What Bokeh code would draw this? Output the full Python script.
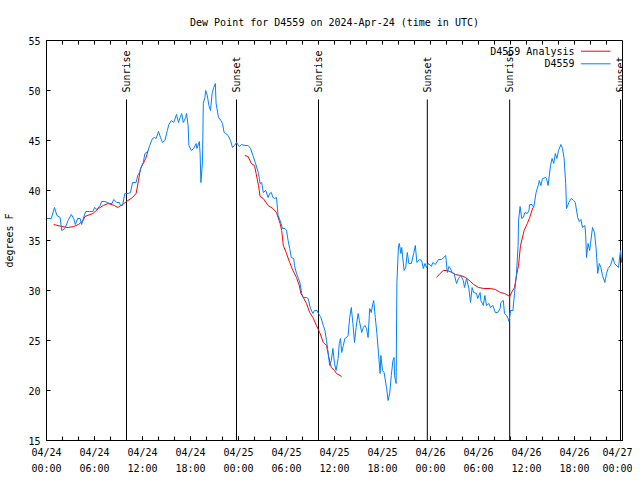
import math
from bokeh.plotting import figure
from bokeh.models import FixedTicker, Title
from bokeh.core.properties import value
from bokeh.embed import file_html
from bokeh.resources import INLINE

FONT = "DejaVu Sans Mono"

# ---- data (hours since 2024-04-24 00:00 UTC, dew point degF) ----
obs_hours = [0.0, 0.2, 0.6, 1.0, 1.3, 1.7, 1.9, 2.3, 2.7, 3.1, 3.4, 3.6, 3.9, 4.2, 4.4, 4.6, 4.9, 5.4, 5.8, 6.0,
             6.3, 6.7, 6.9, 7.3, 7.6, 7.9, 8.2, 8.4, 8.8, 9.1, 9.25, 9.5, 9.8, 10.2, 10.5, 10.75, 11.2, 11.4, 11.7, 11.9,
             12.1, 12.3, 12.5, 12.7, 12.9, 13.25, 13.5, 13.7, 14.0, 14.25, 14.5, 14.8, 15.1, 15.3, 15.6, 15.9, 16.25, 16.5, 16.7, 16.9,
             17.1, 17.4, 17.5, 17.7, 17.8, 18.1, 18.4, 18.7, 18.8, 19.1, 19.2, 19.3, 19.5, 19.6, 19.8, 19.9, 20.1, 20.3, 20.5, 20.7,
             20.9, 21.1, 21.2, 21.5, 21.8, 22.0, 22.2, 22.4, 22.7, 23.0, 23.25, 23.5, 23.75, 24.1, 24.4, 24.8, 25.2, 25.5, 25.8, 26.1,
             26.5, 26.7, 26.9, 27.1, 27.4, 27.7, 27.9, 28.1, 28.3, 28.5, 28.75, 28.95, 29.2, 29.5, 29.8, 30.0, 30.2, 30.4, 30.6, 30.9,
             31.0, 31.25, 31.5, 31.7, 31.9, 32.1, 32.5, 32.7, 33.0, 33.3, 33.5, 33.8, 34.0, 34.3, 34.6, 34.8, 35.0, 35.2, 35.4, 35.6,
             35.8, 36.0, 36.2, 36.45, 36.6, 36.75, 36.9, 37.1, 37.3, 37.5, 37.7, 37.9, 38.1, 38.3, 38.5, 38.7, 38.95, 39.1, 39.4, 39.6,
             39.8, 40.0, 40.2, 40.4, 40.6, 40.8, 40.9, 41.1, 41.3, 41.5, 41.7, 41.8, 42.0, 42.2, 42.5, 42.7, 42.9, 43.1, 43.3, 43.45,
             43.5, 43.7, 43.8, 44.0, 44.1, 44.3, 44.4, 44.7, 44.9, 45.1, 45.3, 45.6, 45.9, 46.1, 46.3, 46.6, 46.9, 47.1, 47.3, 47.5,
             47.75, 48.1, 48.3, 48.6, 49.0, 49.4, 49.9, 50.1, 50.3, 50.5, 50.7, 50.95, 51.25, 51.5, 51.8, 52.1, 52.25, 52.5, 52.8, 53.0,
             53.2, 53.4, 53.75, 53.9, 54.2, 54.3, 54.6, 54.8, 55.0, 55.3, 55.5, 55.8, 56.1, 56.4, 56.7, 56.8, 57.1, 57.25, 57.5, 57.7,
             57.8, 58.0, 58.3, 58.5, 58.75, 58.95, 59.0, 59.2, 59.4, 59.6, 59.8, 60.1, 60.3, 60.4, 60.7, 60.9, 61.2, 61.5, 61.6, 61.8,
             62.0, 62.4, 62.5, 62.7, 63.0, 63.2, 63.4, 63.6, 63.8, 64.0, 64.3, 64.5, 64.7, 64.9, 65.0, 65.3, 65.6, 65.9, 66.1, 66.4,
             66.6, 66.8, 67.0, 67.3, 67.4, 67.5, 67.7, 67.9, 68.0, 68.25, 68.5, 68.7, 68.9, 69.1, 69.3, 69.5, 69.8, 70.0, 70.2, 70.5,
             70.8, 71.0, 71.5, 71.75, 71.9, 72.0]
obs_dewpt = [37.2, 37.2, 37.2, 38.3, 37.5, 37.3, 36.0, 36.2, 37.0, 37.6, 37.2, 36.6, 37.2, 37.2, 36.6, 37.2, 37.9, 37.9, 37.9, 38.3,
             38.1, 38.5, 38.9, 38.9, 38.8, 38.7, 38.7, 39.1, 38.8, 38.8, 38.5, 38.5, 39.7, 39.7, 39.8, 40.8, 40.8, 41.5, 41.9, 42.5,
             42.8, 43.7, 43.8, 44.0, 44.5, 45.2, 45.3, 45.2, 45.9, 45.3, 44.8, 45.0, 46.0, 46.6, 47.0, 46.8, 47.6, 46.8, 47.3, 47.7,
             46.8, 47.3, 47.7, 46.5, 44.5, 44.0, 44.2, 44.7, 44.2, 44.9, 43.7, 40.8, 42.9, 48.7, 49.3, 50.0, 49.5, 48.5, 48.0, 49.7,
             50.3, 50.7, 48.7, 47.3, 47.0, 46.7, 45.8, 45.7, 45.5, 45.0, 44.3, 44.5, 44.8, 44.4, 44.6, 44.5, 44.5, 44.2, 43.5, 42.8,
             41.7, 40.7, 40.8, 39.8, 40.0, 39.3, 39.7, 39.8, 39.3, 39.2, 39.3, 37.5, 37.0, 36.2, 36.2, 36.0, 35.0, 34.2, 33.3, 33.2,
             32.5, 31.7, 31.2, 30.7, 29.7, 29.3, 29.3, 29.2, 28.2, 27.7, 28.0, 28.0, 27.7, 27.3, 26.5, 26.0, 25.0, 23.8, 22.5, 23.0,
             24.2, 22.7, 22.0, 23.2, 24.7, 25.2, 23.8, 24.5, 25.2, 25.3, 25.5, 27.3, 28.3, 26.7, 24.8, 26.3, 27.7, 27.0, 25.8, 26.3,
             26.5, 26.2, 25.3, 28.2, 27.8, 28.7, 29.0, 27.3, 25.7, 23.7, 21.7, 23.5, 22.0, 21.8, 20.3, 19.0, 19.7, 21.5, 23.0, 23.3,
             21.5, 20.7, 30.8, 34.5, 34.7, 33.7, 34.3, 32.0, 32.3, 33.8, 32.7, 32.7, 33.7, 34.5, 32.8, 33.1, 33.0, 32.2, 32.7, 32.3,
             32.7, 32.4, 32.8, 32.6, 33.1, 33.1, 33.5, 31.8, 32.4, 32.2, 31.8, 31.7, 30.7, 31.2, 31.5, 31.0, 30.3, 31.2, 30.2, 28.8,
             30.3, 29.8, 29.7, 29.2, 29.8, 29.0, 28.5, 29.5, 28.5, 28.7, 28.3, 28.5, 27.8, 27.8, 28.2, 28.8, 29.0, 27.7, 27.5, 27.2,
             26.9, 28.0, 28.0, 29.7, 31.7, 34.5, 37.0, 38.4, 37.2, 37.3, 37.8, 37.7, 38.0, 38.6, 38.6, 38.3, 39.8, 40.6, 41.0, 40.5,
             41.2, 41.3, 41.2, 40.5, 42.5, 43.2, 42.7, 43.7, 43.2, 44.0, 44.6, 44.2, 43.2, 40.7, 38.2, 38.8, 39.2, 39.0, 38.8, 37.3,
             36.9, 37.1, 36.3, 36.5, 35.5, 33.3, 34.7, 34.0, 34.7, 36.3, 35.8, 34.2, 31.7, 32.7, 32.3, 31.5, 30.8, 31.7, 32.2, 32.5,
             33.3, 32.7, 32.3, 34.0, 32.8, 32.7]

ana_hours = [0.9, 1.9, 2.7, 3.4, 4.0, 4.6, 4.8, 5.8, 6.5, 7.1, 7.7, 8.5, 8.9, 9.5, 10.0, 10.75, 11.2, 11.5, 11.75, 12.1,
             12.4, 12.7, float("nan"),
             24.8, 25.2, 25.6, 26.0, 26.2, 26.5, 26.7, 27.1, 27.7, 28.3, 28.75, 29.2, 29.4, 29.6, 30.0, 30.4, 30.8, 31.25, 31.6, 31.8,
             32.1, 32.5, 32.9, 33.3, 33.75, 34.2, 34.6, 35.0, 35.3, 35.6, 36.0, 36.25, 36.9, float("nan"),
             48.75, 49.2, 49.6, 50.1, 50.7, 51.1, 51.75, 52.4, 53.0, 53.4, 54.0, 54.7, 55.5, 56.1, 56.75, 57.25, 57.7, 57.9, 58.2, 58.5,
             58.75, 59.0, 59.25, 59.7, 60.1, 60.4, 60.8]
ana_dewpt = [36.6, 36.4, 36.3, 36.4, 36.6, 37.0, 37.4, 37.7, 38.2, 38.5, 38.7, 38.5, 38.3, 38.6, 38.9, 39.3, 39.7, 41.0, 42.2, 42.7,
             43.2, 44.0, float("nan"),
             43.5, 43.4, 42.7, 42.5, 41.7, 40.5, 39.4, 39.2, 38.5, 38.2, 37.8, 36.7, 36.0, 34.5, 33.7, 32.8, 32.0, 31.3, 30.5, 29.7,
             29.3, 28.7, 27.8, 27.3, 26.5, 25.7, 24.8, 24.5, 23.3, 22.3, 22.0, 21.7, 21.4, float("nan"),
             31.3, 31.7, 32.0, 32.0, 31.8, 31.6, 31.5, 31.3, 30.9, 30.6, 30.3, 30.2, 30.2, 30.1, 29.8, 29.7, 29.5, 29.4, 29.9, 30.3,
             31.5, 32.5, 34.5, 36.0, 36.7, 37.3, 38.3]

sun_hours = [10.0, 23.75, 34.0, 47.6, 57.9, 71.75]
sun_names = ["Sunrise", "Sunset", "Sunrise", "Sunset", "Sunrise", "Sunset"]

x_tick_hours = [0, 6, 12, 18, 24, 30, 36, 42, 48, 54, 60, 66, 72]
x_tick_labels = ["04/24\n00:00", "04/24\n06:00", "04/24\n12:00", "04/24\n18:00",
                 "04/25\n00:00", "04/25\n06:00", "04/25\n12:00", "04/25\n18:00",
                 "04/26\n00:00", "04/26\n06:00", "04/26\n12:00", "04/26\n18:00", "04/27\n00:00"]
x_minor_hours = list(range(0, 73, 2))
y_ticks = [15, 20, 25, 30, 35, 40, 45, 50, 55]

legend_names = ["D4559 Analysis", "D4559"]
legend_colors = ["#ff0000", "#0080ff"]

X0, X1, Y0, Y1 = 0, 72, 15, 55

# ---- figure ----
p = figure(width=632, height=477, x_range=(X0, X1), y_range=(Y0, Y1),
           output_backend="svg", toolbar_location=None,
           min_border_left=46, min_border_right=10, min_border_top=40, min_border_bottom=10)
p.title = Title(text="Dew Point for D4559 on 2024-Apr-24 (time in UTC)", align="center",
                text_font=FONT, text_font_size="10px", text_font_style="normal",
                text_color="black", standoff=25)
p.xgrid.visible = False
p.ygrid.visible = False
p.outline_line_color = "black"
p.outline_line_width = 1
p.background_fill_color = "white"
p.border_fill_color = "white"

for ax in (p.xaxis[0], p.yaxis[0]):
    ax.axis_line_color = "black"
    ax.major_tick_in = 4
    ax.major_tick_out = 0
    ax.minor_tick_in = 4
    ax.minor_tick_out = 0
    ax.major_tick_line_color = "black"
    ax.minor_tick_line_color = "black"
    ax.major_label_text_font = FONT
    ax.major_label_text_font_size = "10px"
    ax.major_label_text_color = "black"
    ax.major_label_standoff = 6

p.xaxis.ticker = FixedTicker(ticks=x_tick_hours, minor_ticks=x_minor_hours)
p.xaxis.major_label_overrides = {h: lab for h, lab in zip(x_tick_hours, x_tick_labels)}
p.xaxis.major_label_text_line_height = 1.5

p.yaxis.ticker = FixedTicker(ticks=y_ticks, minor_ticks=[])
p.yaxis.axis_label = "degrees F"
p.yaxis.axis_label_text_font = FONT
p.yaxis.axis_label_text_font_size = "10px"
p.yaxis.axis_label_text_font_style = "normal"
p.yaxis.axis_label_text_color = "black"
p.yaxis.axis_label_standoff = 10

# mirrored ticks on the top and right frame edges (gnuplot style)
tick_dy = (Y1 - Y0) * 4 / 400.0
tick_dx = (X1 - X0) * 4 / 576.0
p.segment(x0=x_minor_hours, y0=[Y1] * len(x_minor_hours), x1=x_minor_hours,
          y1=[Y1 - tick_dy] * len(x_minor_hours), line_color="black", line_width=1)
p.segment(x0=[X1] * len(y_ticks), y0=y_ticks, x1=[X1 - tick_dx] * len(y_ticks), y1=y_ticks,
          line_color="black", line_width=1)

# sunrise / sunset markers
p.segment(x0=sun_hours, y0=[Y0] * len(sun_hours), x1=sun_hours, y1=[49.1] * len(sun_hours),
          line_color="black", line_width=1)
p.text(x=sun_hours, y=[49.8] * len(sun_hours), text=sun_names, angle=math.pi / 2,
       text_align="left", text_baseline="middle", text_font=value(FONT),
       text_font_size="10px", text_color="black")

# series
p.line(ana_hours, ana_dewpt, line_color=legend_colors[0], line_width=1)
p.line(obs_hours, obs_dewpt, line_color=legend_colors[1], line_width=1)

# gnuplot-style key (text then sample line)
key_y = [53.93, 52.67]
p.text(x=[66.0, 66.0], y=key_y, text=legend_names, text_align="right", text_baseline="middle",
       text_font=value(FONT), text_font_size="10px", text_color="black")
p.segment(x0=[66.8, 66.8], y0=key_y, x1=[70.5, 70.5], y1=key_y, line_color=legend_colors, line_width=1)

open("out.html", "w").write(file_html(p, INLINE))
